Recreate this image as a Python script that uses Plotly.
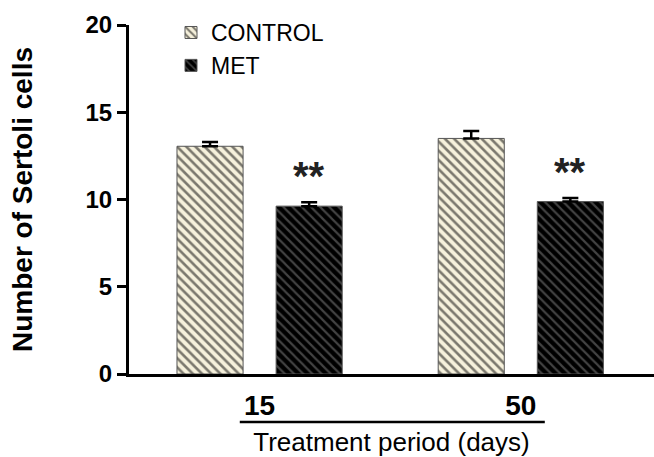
import plotly.graph_objects as go

categories = ["15", "50"]
control_vals = [13.05, 13.5]
control_err = [0.25, 0.42]
met_vals = [9.62, 9.88]
met_err = [0.22, 0.2]
sig_labels = ["**", "**"]

FONT = "Liberation Sans, Arial, sans-serif"

fig = go.Figure()
fig.add_trace(go.Bar(
    name="CONTROL", x=categories, y=control_vals,
    error_y=dict(type="data", array=control_err, arrayminus=[0, 0], symmetric=False,
                 color="black", thickness=2.5, width=8),
    marker=dict(color="#f6f1dc", line=dict(color="#555", width=1),
                pattern=dict(shape="\\", bgcolor="#f6f1dc", fgcolor="black",
                             size=6.5, solidity=0.4, fillmode="overlay")),
))
fig.add_trace(go.Bar(
    name="MET", x=categories, y=met_vals,
    error_y=dict(type="data", array=met_err, arrayminus=[0, 0], symmetric=False,
                 color="black", thickness=2.5, width=8),
    marker=dict(color="black", line=dict(color="#555", width=1),
                pattern=dict(shape="\\", bgcolor="black", fgcolor="#858585",
                             size=6.5, solidity=0.33, fillmode="overlay")),
))

# category positions: index i corresponds to categories[i]
for i, (v, e, s) in enumerate(zip(met_vals, met_err, sig_labels)):
    fig.add_annotation(x=i, y=v + e, xref="x", yref="y", text=s, showarrow=False,
                       xshift=49.5, yshift=2, yanchor="bottom",
                       font=dict(family=FONT, size=40, color="#222", weight="bold"))

fig.add_shape(type="line", xref="paper", yref="paper", x0=0.211, x1=0.792,
              y0=-0.1375, y1=-0.1375, line=dict(color="black", width=2.5))

fig.update_layout(
    width=654, height=457,
    margin=dict(l=129, r=0, t=25, b=83, autoexpand=False),
    paper_bgcolor="white", plot_bgcolor="white",
    barmode="group", bargap=0.241, bargroupgap=1/3,
    font=dict(family=FONT, color="black"),
    showlegend=True,
    legend=dict(x=0.08, y=1.04, xanchor="left", yanchor="top",
                font=dict(family=FONT, size=23, color="black"),
                bgcolor="rgba(0,0,0,0)", tracegroupgap=0),
    xaxis=dict(
        type="category", range=[-0.5, 1.51],
        showline=True, linecolor="black", linewidth=3,
        ticks="", showgrid=False, zeroline=False,
        tickfont=dict(family=FONT, size=28, color="black", weight="bold"),
        ticklabelstandoff=4,
        title=dict(text="Treatment period (days)", standoff=16,
                   font=dict(family=FONT, size=26, color="black")),
    ),
    yaxis=dict(
        range=[0, 20], tickvals=[0, 5, 10, 15, 20],
        showline=True, linecolor="black", linewidth=3,
        ticks="outside", ticklen=9, tickwidth=3, tickcolor="black",
        showgrid=False, zeroline=False,
        tickfont=dict(family=FONT, size=24, color="black", weight="bold"),
        title=dict(text="Number of Sertoli cells", standoff=45,
                   font=dict(family=FONT, size=28, color="black", weight="bold")),
    ),
)

fig.write_html("out.html", config={"displayModeBar": False},
               post_script="document.body.style.margin='0';document.body.style.overflow='hidden';")
